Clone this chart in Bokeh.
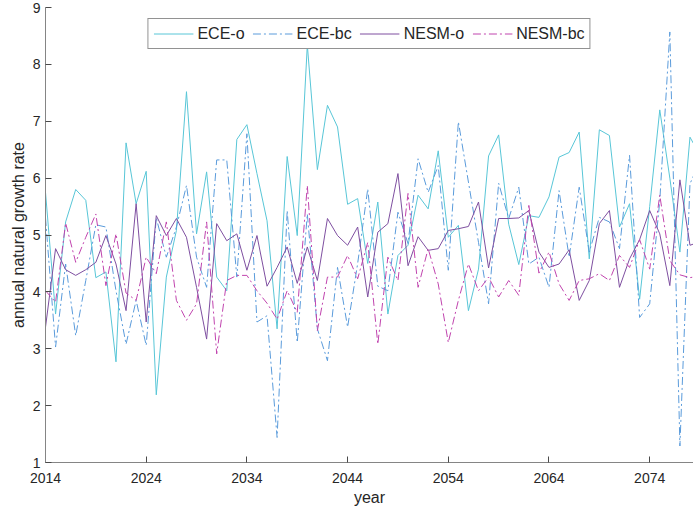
from bokeh.plotting import figure
from bokeh.models import Range1d, FixedTicker, Legend, LegendItem
from bokeh.embed import file_html
from bokeh.resources import INLINE

years = list(range(2014, 2080))

ece_o = [5.75, 3.61, 5.23, 5.80, 5.61, 4.25, 4.35, 2.77, 6.62, 5.55,
         6.12, 2.19, 4.26, 5.08, 7.52, 5.02, 6.11, 4.26, 4.02, 6.68,
         6.94, 6.08, 5.25, 3.35, 6.38, 4.99, 8.34, 6.15, 7.28, 6.90,
         5.54, 5.64, 4.50, 5.58, 3.61, 4.64, 4.82, 5.70, 5.46, 6.48,
         4.96, 5.17, 3.67, 4.40, 6.39, 6.76, 5.19, 4.48, 5.34, 5.31,
         5.67, 6.37, 6.45, 6.81, 4.58, 6.85, 6.75, 5.14, 5.55, 3.87,
         5.50, 7.20, 6.00, 4.70, 6.72, 6.40]

ece_bc = [5.30, 3.03, 4.49, 3.23, 4.20, 5.18, 5.14, 4.02, 3.08, 3.85,
          3.06, 5.30, 4.61, 5.14, 5.87, 4.61, 4.08, 6.32, 6.32, 4.26,
          6.78, 3.47, 3.58, 1.44, 5.43, 3.11, 5.37, 3.35, 2.79, 4.43,
          3.38, 4.50, 5.81, 4.10, 4.02, 5.40, 4.85, 6.34, 5.75, 6.22,
          4.38, 6.99, 5.93, 4.87, 3.79, 5.91, 5.29, 5.84, 4.49, 4.61,
          4.08, 5.78, 4.61, 5.84, 4.70, 5.31, 5.23, 4.76, 6.40, 3.55,
          3.79, 5.60, 8.57, 1.29, 5.90, 6.30]

nesm_o = [3.38, 4.76, 4.39, 4.29, 4.39, 4.52, 4.99, 4.49, 3.67, 5.55,
          3.47, 5.34, 4.99, 5.29, 4.96, 4.08, 3.17, 5.20, 4.90, 5.02,
          4.38, 4.99, 4.10, 4.43, 4.79, 4.15, 4.79, 4.20, 5.29, 4.99,
          4.82, 5.14, 3.91, 5.05, 5.20, 6.08, 4.46, 4.97, 4.73, 4.76,
          5.08, 5.11, 5.15, 5.58, 4.42, 5.29, 5.29, 5.30, 5.43, 4.70,
          4.43, 4.49, 4.74, 3.85, 4.20, 5.20, 5.43, 4.08, 4.58, 4.92,
          5.43, 5.02, 4.11, 5.97, 4.82, 4.88]

nesm_bc = [4.02, 3.82, 5.21, 4.52, 4.96, 5.37, 4.11, 5.02, 3.98, 3.85,
           4.61, 4.32, 5.23, 3.85, 3.50, 3.79, 5.23, 2.91, 4.20, 4.29,
           4.29, 4.02, 3.80, 3.52, 4.02, 3.64, 5.87, 3.32, 4.26, 4.26,
           4.64, 4.23, 4.87, 3.08, 4.61, 4.20, 5.73, 4.08, 4.76, 4.14,
           3.11, 3.85, 4.49, 4.02, 4.26, 3.91, 4.20, 3.94, 5.52, 4.33,
           4.70, 4.14, 3.85, 4.20, 4.23, 4.32, 4.20, 4.64, 4.43, 4.92,
           4.40, 5.70, 4.55, 4.30, 4.25, 4.28]

x_ticks = [2014, 2024, 2034, 2044, 2054, 2064, 2074]
y_ticks = [1, 2, 3, 4, 5, 6, 7, 8, 9]

series_names = ["ECE-o", "ECE-bc", "NESM-o", "NESM-bc"]
colors = ["#58C6D7", "#5A9BDB", "#7E4FA0", "#C044AE"]
dashes = ["solid", "8 3 2 3", "solid", "8 3 2 3"]

p = figure(width=693, height=511, output_backend="svg", toolbar_location=None,
           x_range=Range1d(2014, 2078.35), y_range=Range1d(1, 9))
p.min_border_left = 45
p.min_border_right = 0
p.min_border_top = 7
p.min_border_bottom = 49
p.outline_line_color = None
p.background_fill_color = "white"
p.border_fill_color = "white"
p.xgrid.visible = False
p.ygrid.visible = False

for ax in (p.xaxis[0], p.yaxis[0]):
    ax.axis_line_color = "#858585"
    ax.axis_line_width = 1
    ax.major_tick_line_color = "#4a4a4a"
    ax.major_tick_in = 6
    ax.major_tick_out = 0
    ax.minor_tick_line_color = None
    ax.major_label_text_font = "Liberation Sans"
    ax.major_label_text_font_size = "14px"
    ax.major_label_text_color = "#262626"
    ax.axis_label_text_font = "Liberation Sans"
    ax.axis_label_text_font_size = "16px"
    ax.axis_label_text_font_style = "normal"
    ax.axis_label_text_color = "#262626"

p.xaxis.ticker = FixedTicker(ticks=x_ticks)
p.yaxis.ticker = FixedTicker(ticks=y_ticks)
p.xaxis.axis_label = "year"
p.yaxis.axis_label = "annual natural growth rate"
p.xaxis.major_label_standoff = 10
p.yaxis.major_label_standoff = 5
p.xaxis.axis_label_standoff = 3
p.yaxis.axis_label_standoff = 3

data = [ece_o, ece_bc, nesm_o, nesm_bc]
items = []
for name, vals, c, d in zip(series_names, data, colors, dashes):
    r = p.line(years, vals, line_color=c, line_width=1, line_dash=d)
    items.append(LegendItem(label=name, renderers=[r]))

legend = Legend(items=items, orientation="horizontal", location="top_center")
legend.margin = 11
legend.padding = 5
legend.spacing = 8
legend.glyph_width = 40
legend.glyph_height = 19
legend.label_height = 19
legend.label_standoff = 4
legend.label_text_font = "Liberation Sans"
legend.label_text_font_size = "16px"
legend.label_text_color = "#262626"
legend.border_line_color = "#262626"
legend.border_line_width = 1
legend.background_fill_color = "white"
legend.background_fill_alpha = 1
p.add_layout(legend)

open("out.html", "w").write(file_html(p, INLINE))
